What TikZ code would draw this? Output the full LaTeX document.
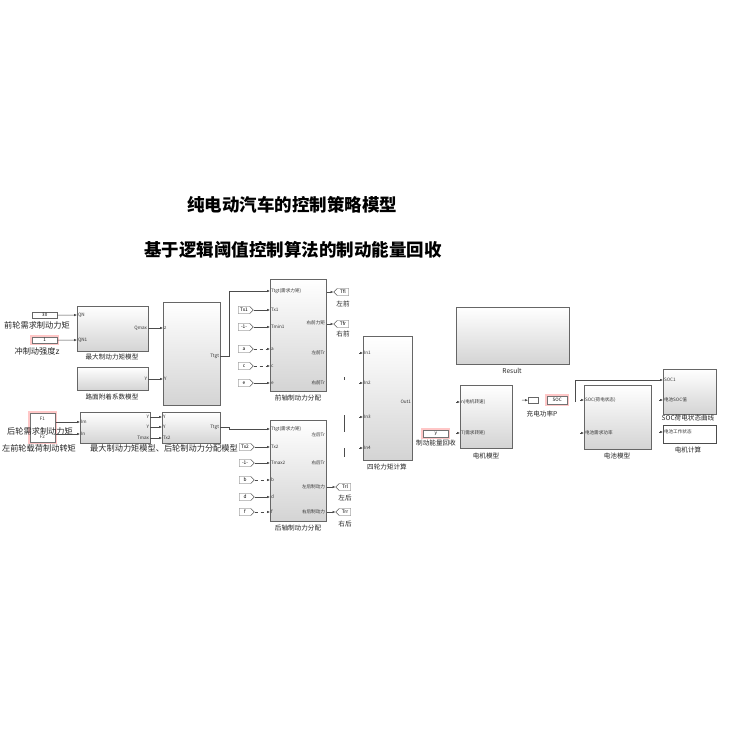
\documentclass[tikz,border=0pt]{standalone}
\usepackage{fontspec}
\setmainfont{Noto Sans CJK SC}
\usetikzlibrary{arrows.meta,shapes.symbols,calc}
\begin{document}
\begin{tikzpicture}[x=1pt,y=-1pt,
 blk/.style={draw=black!60, line width=0.5pt, top color=white, bottom color=black!17, anchor=north west, inner sep=0pt},
 wblk/.style={draw=black!70, line width=0.5pt, fill=white, anchor=north west, inner sep=0pt},
 pl/.style={font=\fontsize{4.6}{5}\selectfont, inner sep=0.8pt, text=black!80},
 bl/.style={font=\fontsize{6.6}{7}\selectfont, inner sep=0pt, text=black!85},
 ll/.style={font=\fontsize{8.2}{9}\selectfont, inner sep=0pt, text=black!85},
 tl/.style={font=\fontsize{17.5}{20}\selectfont\bfseries, inner sep=0pt},
 wire/.style={draw=black!70, line width=0.5pt, -{Latex[length=2.8pt,width=2.4pt]}},
 dwire/.style={wire, dashed},
 pw/.style={draw=black!70, line width=0.5pt},
 tagE/.style={signal, signal to=east, draw=black!65, line width=0.45pt, fill=white, minimum width=15pt, minimum height=7pt, inner sep=0.5pt, font=\fontsize{4.8}{5}\selectfont},
 tagW/.style={tagE, signal to=west},
 hlt/.style={preaction={draw=red!22, line width=3.6pt, rounded corners=3pt}, draw=black!55},
 const/.style={draw=black!60, line width=0.5pt, fill=white, anchor=north west, inner sep=0pt, font=\fontsize{4.6}{5}\selectfont},
]
\fill[white] (0,0) rectangle (730,730);
\useasboundingbox (0,0) rectangle (730,730);

% titles
\node[tl] (t1) at (292,205) {纯电动汽车的控制策略模型};
\node[tl] (t2) at (293,250) {基于逻辑阈值控制算法的制动能量回收};

% ---------------- left part ----------------
\node[const, minimum width=25pt, minimum height=6pt] (c30) at (32,312) {30};
\node[ll] (c30l) at (37,325) {前轮需求制动力矩};
\node[const, hlt, minimum width=25pt, minimum height=6pt] (c1) at (32,337) {1};
\node[ll] (c1l) at (37,351) {冲制动强度z};

\node[blk, minimum width=71pt, minimum height=45pt] (mx1) at (77,306) {};
\node[bl] (mx1l) at (112,357) {最大制动力矩模型};
\node[pl, anchor=west] (mx1a) at (77,315) {QN};
\node[pl, anchor=west] (mx1b) at (77,340) {QN1};
\node[pl, anchor=east] (mx1o) at (148,328) {Qmax};

\node[blk, minimum width=71pt, minimum height=23pt] (mx2) at (77,367) {};
\node[bl] (mx2l) at (112,397) {路面附着系数模型};
\node[pl, anchor=east] (mx2o) at (148,379) {Y};

\node[blk, minimum width=57pt, minimum height=103pt] (tq) at (163,302) {};
\node[pl, anchor=west] (tqa) at (163,328) {z};
\node[pl, anchor=west] (tqb) at (163,379) {Y};
\node[pl, anchor=east] (tqo) at (220,356) {Ttgt};

\draw[wire] (c30.east) -- (mx1a.west);
\draw[wire] (c1.east) -- (mx1b.west);
\draw[wire] (mx1o.east) -- (tqa.west);
\draw[wire] (mx2o.east) -- (tqb.west);

% lower left
\node[const, hlt, minimum width=25pt, minimum height=29pt] (rs) at (30,413) {};
\node[pl] (rsa) at (42.5,419) {F1};
\node[pl] (rsb) at (42.5,437) {F2};
\node[ll] (rsl) at (40,431) {后轮需求制动力矩};

\node[blk, minimum width=70pt, minimum height=31pt] (mx3) at (80,412) {};
\node[pl, anchor=west] (mx3a) at (80,422) {Im};
\node[pl, anchor=west] (mx3b) at (80,434) {In};
\node[pl, anchor=east] (mx3o1) at (150,417) {Y};
\node[pl, anchor=east] (mx3o2) at (150,427) {Y};
\node[pl, anchor=east] (mx3o3) at (150,438) {Tmax};

\node[blk, minimum width=58pt, minimum height=31pt] (tq2) at (162,412) {};
\node[pl, anchor=west] (tq2a) at (162,417) {Y};
\node[pl, anchor=west] (tq2b) at (162,427) {Y};
\node[pl, anchor=west] (tq2c) at (162,438) {Tx2};
\node[pl, anchor=east] (tq2o) at (220,427) {Ttgt};

\draw[wire] (rs.east |- mx3a.west) -- (mx3a.west);
\draw[wire] (rs.east |- mx3b.west) -- (mx3b.west);
\draw[wire] (mx3o1.east) -- (tq2a.west);
\draw[wire] (mx3o2.east) -- (tq2b.west);
\draw[wire] (mx3o3.east) -- (tq2c.west);

\node[ll] (l1) at (39,448) {左前轮载荷制动转矩};
\node[ll] (l2) at (164,448) {最大制动力矩模型、后轮制动力分配模型};

% ---------------- front axle ----------------
\node[blk, minimum width=56pt, minimum height=112pt] (fa) at (270,279) {};
\node[bl] (fal) at (298,398) {前轴制动力分配};
\node[pl, anchor=west] (fa1) at (270,291) {Ttgt(需求力矩)};
\node[pl, anchor=west] (fa2) at (270,310) {Tx1};
\node[pl, anchor=west] (fa3) at (270,327) {Tmin1};
\node[pl, anchor=west] (fa4) at (270,349) {a};
\node[pl, anchor=west] (fa5) at (270,366) {c};
\node[pl, anchor=west] (fa6) at (270,383) {e};
\node[pl, anchor=east] (fo1) at (326,323) {右前力矩};
\node[pl, anchor=east] (fo2) at (326,353) {左前Tr};
\node[pl, anchor=east] (fo3) at (326,383) {右前Tr};

\draw[wire] (tqo.east) -- ++(9,0) |- (fa1.west);

\node[tagE] (tx1) at (244,310) {Tx1};
\node[tagE] (tm1) at (244,327) {-1-};
\node[tagE] (ta) at (244,349) {a};
\node[tagE] (tc) at (244,366) {c};
\node[tagE] (te) at (244,383) {e};
\draw[wire] (tx1.east) -- (fa2.west);
\draw[wire] (tm1.east) -- (fa3.west);
\draw[dwire] (ta.east) -- (fa4.west);
\draw[dwire] (tc.east) -- (fa5.west);
\draw[wire] (te.east) -- (fa6.west);

\node[tagW] (gfl) at (343,292) {Tfl};
\node[bl] (gfll) at (343,304) {左前};
\node[tagW] (gfr) at (343,324) {Tfr};
\node[bl] (gfrl) at (343,334) {右前};
\draw[wire] (fa.east |- gfl) -- (gfl.west);
\draw[wire] (fa.east |- gfr) -- (gfr.west);

% ---------------- rear axle ----------------
\node[blk, minimum width=56pt, minimum height=101pt] (ra) at (270,420) {};
\node[bl] (ral) at (298,528) {后轴制动力分配};
\node[pl, anchor=west] (ra1) at (270,429) {Ttgt(需求力矩)};
\node[pl, anchor=west] (ra2) at (270,447) {Tx2};
\node[pl, anchor=west] (ra3) at (270,463) {Tmax2};
\node[pl, anchor=west] (ra4) at (270,480) {b};
\node[pl, anchor=west] (ra5) at (270,497) {d};
\node[pl, anchor=west] (ra6) at (270,512) {f};
\node[pl, anchor=east] (ro1) at (326,435) {左后Tr};
\node[pl, anchor=east] (ro2) at (326,463) {右后Tr};
\node[pl, anchor=east] (ro3) at (326,487) {左后制动力};
\node[pl, anchor=east] (ro4) at (326,512) {右后制动力};

\draw[wire] (tq2o.east) -- ++(9,0) |- (ra1.west);

\node[tagE] (tx2) at (245,447) {Tx2};
\node[tagE] (tm2) at (245,463) {-1-};
\node[tagE] (tb) at (245,480) {b};
\node[tagE] (td) at (245,497) {d};
\node[tagE] (tf) at (245,512) {f};
\draw[wire] (tx2.east) -- (ra2.west);
\draw[wire] (tm2.east) -- (ra3.west);
\draw[dwire] (tb.east) -- (ra4.west);
\draw[wire] (td.east) -- (ra5.west);
\draw[dwire] (tf.east) -- (ra6.west);

\node[tagW] (grl) at (345,487) {Trl};
\node[bl] (grll) at (345,498) {左后};
\node[tagW] (grr) at (345,512) {Trr};
\node[bl] (grrl) at (345,524) {右后};
\draw[wire] (ra.east |- grl) -- (grl.west);
\draw[wire] (ra.east |- grr) -- (grr.west);

% short marks between columns
\draw[pw] (344,377) -- (344,379.5);
\draw[pw, line width=0.8pt] (344,415) -- (344,432);
\draw[pw, line width=0.8pt] (344,448) -- (344,457);

% ---------------- four-wheel torque ----------------
\node[blk, minimum width=49pt, minimum height=124pt] (fw) at (363,336) {};
\node[bl] (fwl) at (387,467) {四轮力矩计算};
\node[pl, anchor=west] (fw1) at (363,353) {In1};
\node[pl, anchor=west] (fw2) at (363,383) {In2};
\node[pl, anchor=west] (fw3) at (363,417) {In3};
\node[pl, anchor=west] (fw4) at (363,448) {In4};
\node[pl, anchor=east] (fwo) at (412,402) {Out1};
\foreach \p in {fw1,fw2,fw3,fw4}{\coordinate (s\p) at ($(\p.west)+(-4,0)$); \draw[wire] (s\p) -- (\p.west);}

\node[const, hlt, minimum width=25pt, minimum height=7pt] (yb) at (423,430) {y};
\node[bl] (ybl) at (436,443) {制动能量回收};

% ---------------- right part ----------------
\node[blk, minimum width=113pt, minimum height=57pt] (res) at (456,307) {};
\node[bl] (resl) at (512,371) {Result};

\node[blk, minimum width=52pt, minimum height=63pt] (mo) at (460,385) {};
\node[bl] (mol) at (486,456) {电机模型};
\node[pl, anchor=west] (mo1) at (460,402) {n(电机转速)};
\node[pl, anchor=west] (mo2) at (460,433) {T(需求转矩)};
\foreach \p in {mo1,mo2}{\coordinate (s\p) at ($(\p.west)+(-4,0)$); \draw[wire] (s\p) -- (\p.west);}

\node[const, minimum width=10pt, minimum height=6pt] (sm) at (528,397) {};
\coordinate (smin) at (522,400);
\draw[wire] (smin) -- (sm.west);
\node[const, hlt, minimum width=20pt, minimum height=8pt] (rsoc) at (547,396) {SOC};
\node[bl] (rsocl) at (542,414) {充电功率P};

\node[blk, minimum width=67pt, minimum height=64pt] (bt) at (584,385) {};
\node[bl] (btl) at (617,456) {电池模型};
\node[pl, anchor=west] (bt1) at (584,400) {SOC(荷电状态)};
\node[pl, anchor=west] (bt2) at (584,433) {电池需求功率};
\foreach \p in {bt1,bt2}{\coordinate (s\p) at ($(\p.west)+(-4,0)$); \draw[wire] (s\p) -- (\p.west);}

\node[blk, minimum width=53pt, minimum height=45pt] (so) at (663,369) {};
\node[pl, anchor=west] (so1) at (663,380) {SOC1};
\node[pl, anchor=west] (so2) at (663,400) {电池SOC值};
\coordinate (sso2) at (659,400);
\draw[wire] (sso2) -- (so2.west);
\node[bl] (sol) at (688,418) {SOC荷电状态曲线};

\node[wblk, minimum width=53pt, minimum height=18pt] (so3b) at (663,425) {};
\node[pl, anchor=west] (so3) at (663,432) {电池工作状态};
\coordinate (sso3) at (659,432);
\draw[wire] (sso3) -- (so3.west);
\node[bl] (so3l) at (688,450) {电机计算};

\coordinate (sv) at (575,402);
\draw[wire] (sv) |- (so1.west);

\end{tikzpicture}
\end{document}
